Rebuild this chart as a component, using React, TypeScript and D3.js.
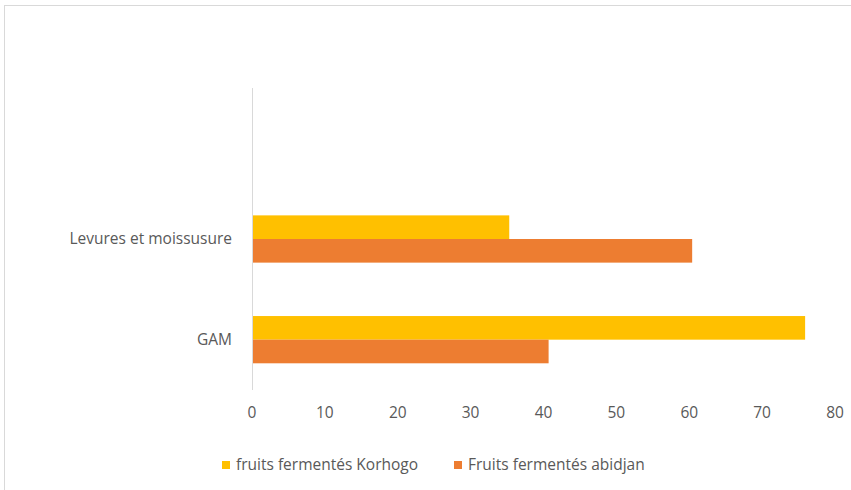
import { useRef, useEffect } from 'react'
import * as d3 from 'd3'

const categories = ['', 'Levures et moissusure', 'GAM']
const seriesNames = ['fruits fermentés Korhogo', 'Fruits fermentés abidjan']
const korhogo = [null, 35.3, 75.9]
const abidjan = [null, 60.4, 40.7]
const xTicks = [0, 10, 20, 30, 40, 50, 60, 70, 80]
const colors = ['#FFC000', '#ED7D31']

const W = 851
const H = 490

export default function App() {
  const svgRef = useRef<SVGSVGElement>(null)

  useEffect(() => {
    if (!svgRef.current) return
    const svg = d3.select(svgRef.current)
    svg.selectAll('*').remove()

    const font = 'Open Sans, Liberation Sans, sans-serif'
    const fs = 15.5
    const left = 252
    const right = 835
    const top = 88
    const bottom = 390

    // chart frame
    svg.append('rect')
      .attr('x', 4.5).attr('y', 5.5)
      .attr('width', W + 20).attr('height', H + 20)
      .attr('fill', '#fff').attr('stroke', '#D9D9D9')

    const x = d3.scaleLinear().domain([0, 80]).range([left, right])
    const y = d3.scaleBand().domain(categories).range([top, bottom]).paddingInner(0).paddingOuter(0)
    const sub = d3.scaleBand().domain(seriesNames).range([0, y.bandwidth()]).paddingInner(0).paddingOuter(1.13)

    const series = [korhogo, abidjan]
    series.forEach((vals, si) => {
      svg.append('g')
        .selectAll('rect')
        .data(categories.map((c, i) => ({ c, v: vals[i] })).filter((d) => d.v != null))
        .join('rect')
        .attr('x', x(0))
        .attr('y', (d) => (y(d.c) as number) + (sub(seriesNames[si]) as number))
        .attr('width', (d) => x(d.v as number) - x(0))
        .attr('height', sub.bandwidth())
        .attr('fill', colors[si])
    })

    // vertical axis line
    svg.append('line')
      .attr('x1', x(0) + 0.5).attr('x2', x(0) + 0.5)
      .attr('y1', top).attr('y2', bottom)
      .attr('stroke', '#D9D9D9').attr('stroke-width', 1)

    // category labels
    svg.append('g')
      .selectAll('text')
      .data(categories)
      .join('text')
      .attr('x', x(0) - 20)
      .attr('y', (d) => (y(d) as number) + y.bandwidth() / 2)
      .attr('dy', '0.35em')
      .attr('text-anchor', 'end')
      .attr('font-family', font)
      .attr('font-size', fs)
      .attr('fill', '#595959')
      .text((d) => d)

    // x tick labels
    svg.append('g')
      .selectAll('text')
      .data(xTicks)
      .join('text')
      .attr('x', (d) => x(d))
      .attr('y', 413)
      .attr('dy', '0.35em')
      .attr('text-anchor', 'middle')
      .attr('font-family', font)
      .attr('font-size', fs)
      .attr('fill', '#595959')
      .text((d) => d)

    // legend
    const legendX = [222, 454]
    seriesNames.forEach((name, i) => {
      const g = svg.append('g').attr('transform', `translate(${legendX[i]},465)`)
      g.append('rect').attr('x', 0).attr('y', -4).attr('width', 8).attr('height', 8).attr('fill', colors[i])
      g.append('text')
        .attr('x', 14).attr('y', 0).attr('dy', '0.35em')
        .attr('font-family', font).attr('font-size', fs).attr('fill', '#595959')
        .text(name)
    })
  }, [])

  return (
    <svg
      ref={svgRef}
      width={W}
      height={H}
      style={{ position: 'absolute', left: 0, top: 0, display: 'block' }}
    />
  )
}
